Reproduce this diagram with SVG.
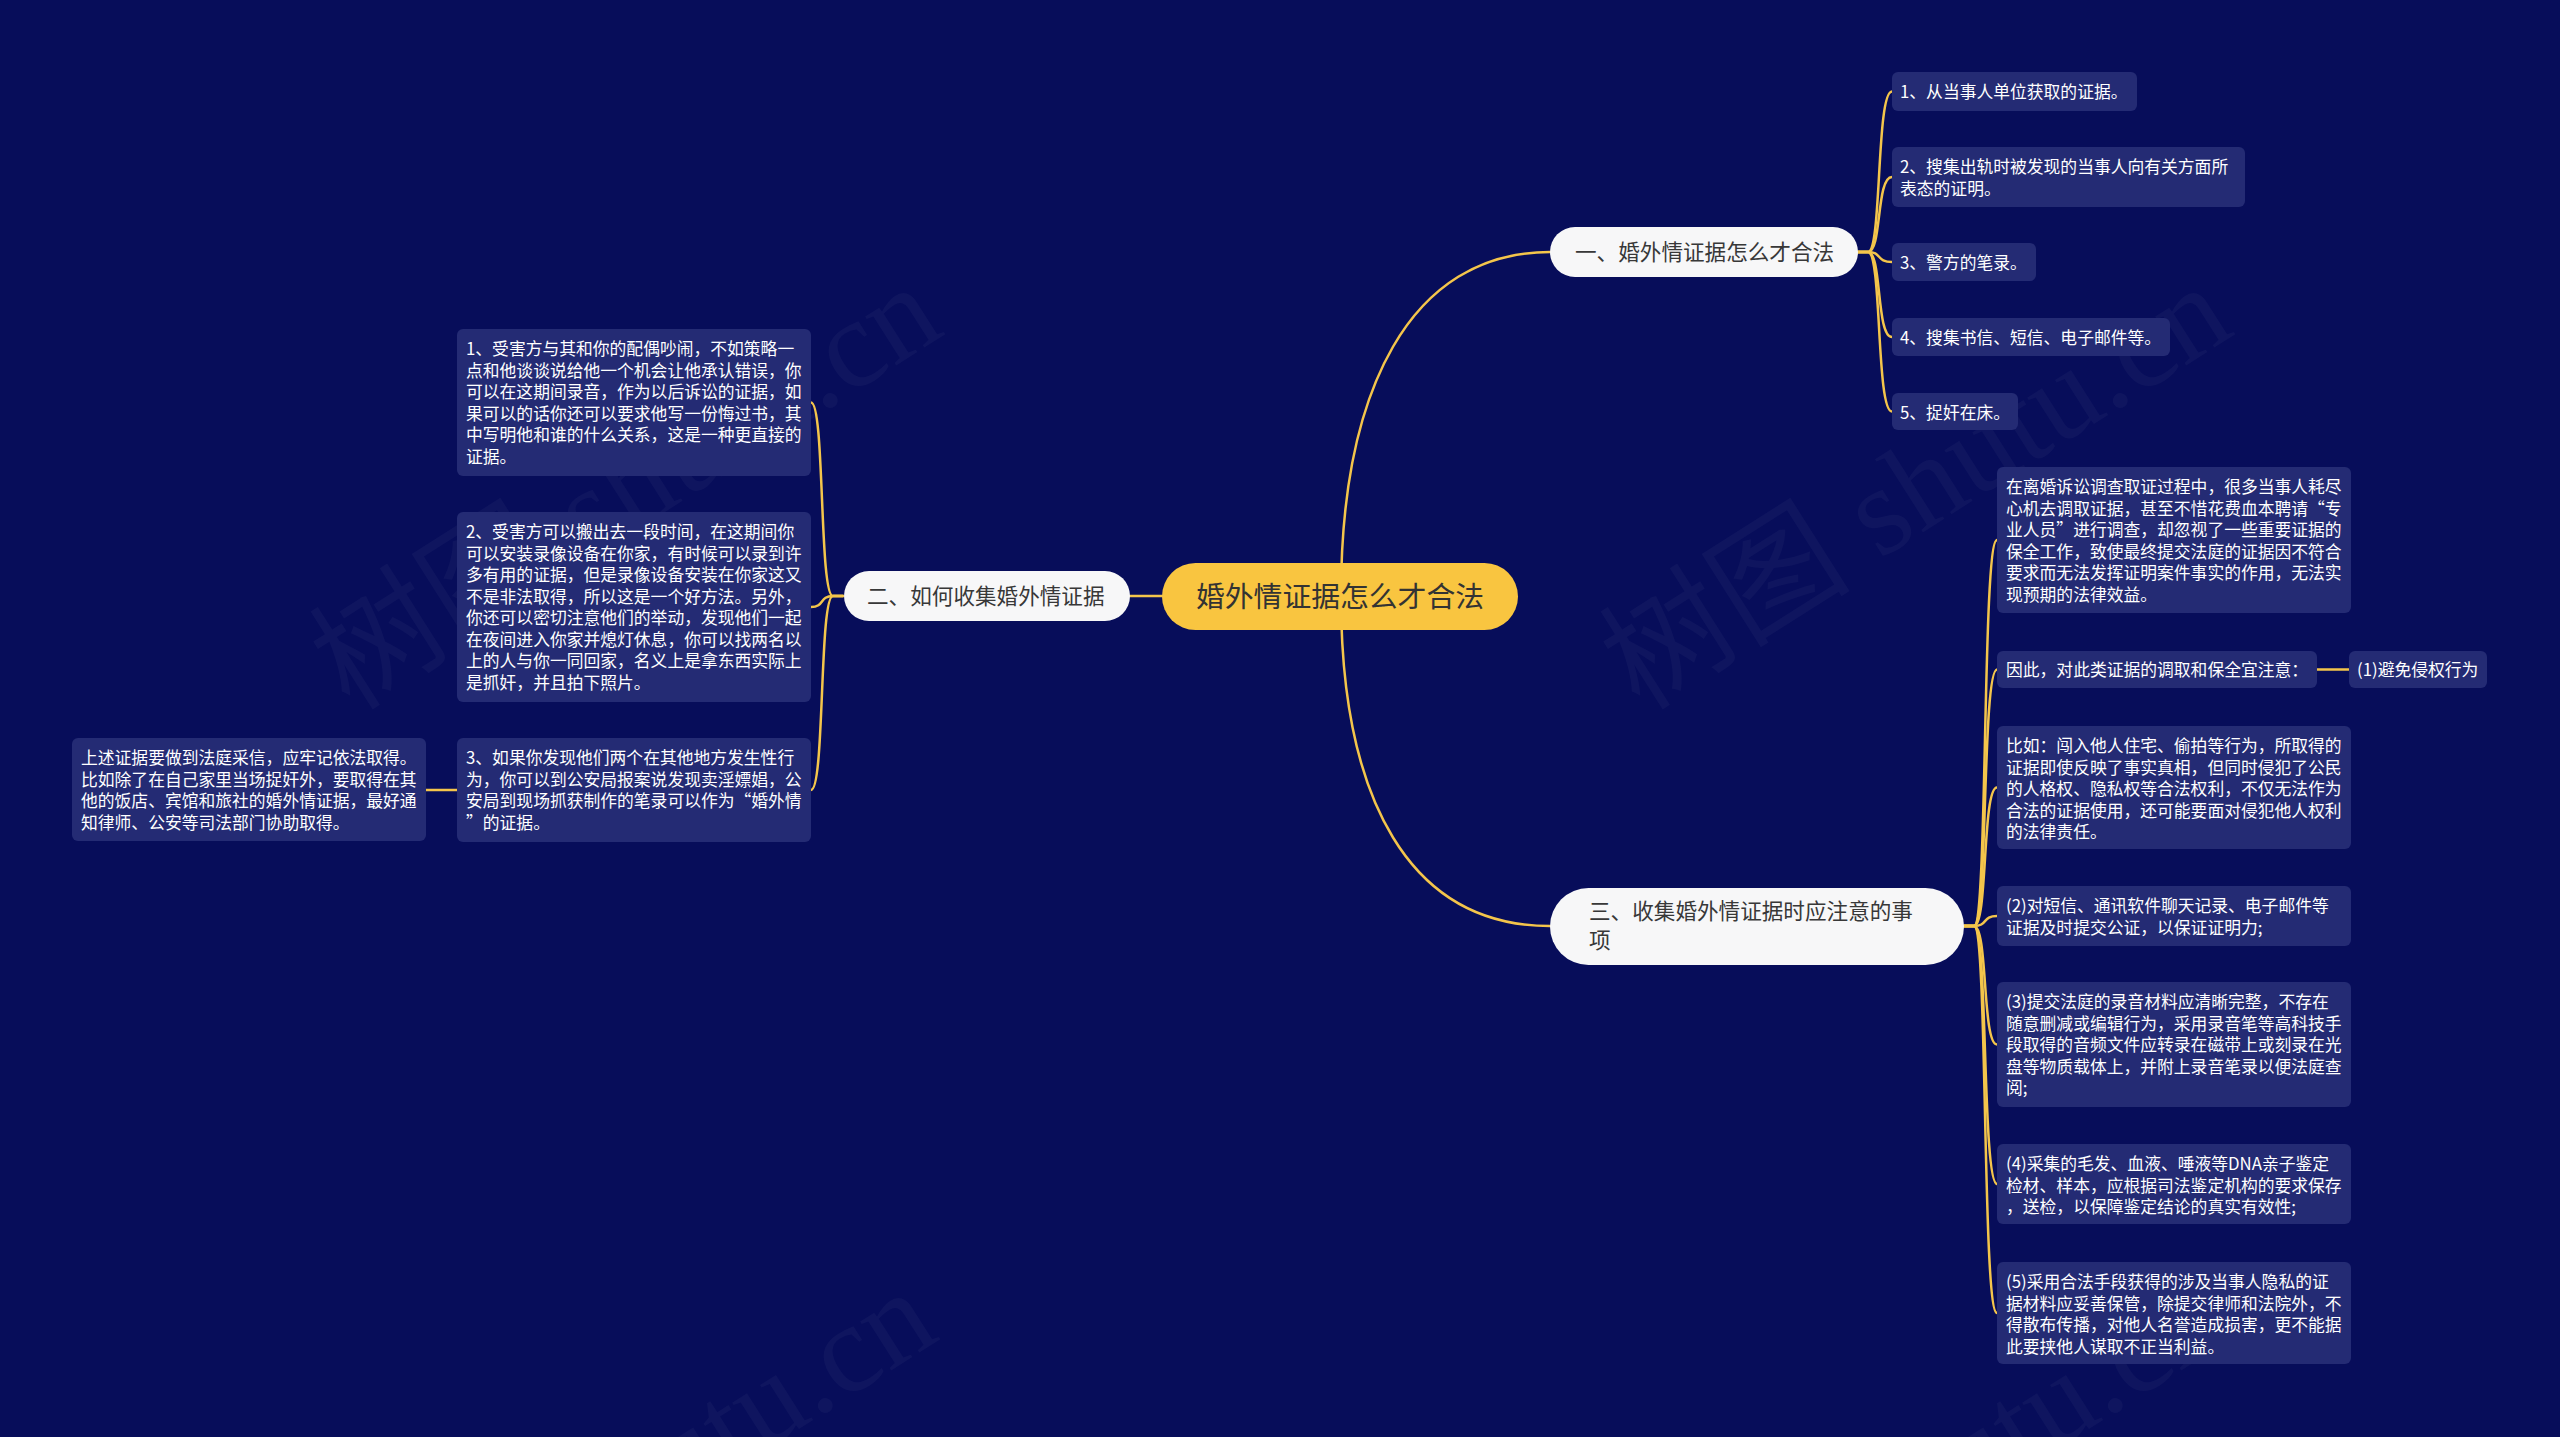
<svg xmlns="http://www.w3.org/2000/svg" width="2560" height="1437" viewBox="0 0 2560 1437">
<style>
.bg{fill:#070D5A}
.wm{font-family:"Liberation Serif","Noto Sans CJK SC",serif;font-size:126px;fill:#ffffff;fill-opacity:0.035}
.root rect{fill:#F9C540}
.root text{font-family:"Noto Sans CJK SC","Noto Sans",sans-serif;font-size:28.8px;fill:#333333}
.l1 rect{fill:#F7F7F8}
.l1 text{font-family:"Noto Sans CJK SC","Noto Sans",sans-serif;font-size:21.6px;fill:#383838}
.leaf rect{fill:#242B74}
.leaf text{font-family:"Noto Sans CJK SC","Noto Sans",sans-serif;font-size:16.8px;fill:#FFFFFF}
.conn path{fill:none;stroke:#F4C54B;stroke-width:2.5;stroke-linecap:round}
</style>
<rect class="bg" x="0" y="0" width="2560" height="1437"/>
<g id="watermarks">
<text class="wm" transform="translate(350 712) rotate(-32.4)">树图 shutu.cn</text>
<text class="wm" transform="translate(1640 712) rotate(-32.4)">树图 shutu.cn</text>
<text class="wm" transform="translate(345 1717) rotate(-32.4)">树图 shutu.cn</text>
<text class="wm" transform="translate(1635 1717) rotate(-32.4)">树图 shutu.cn</text>
</g>
<g id="connectors" class="conn">
<path d="M1341 596 C1341 390 1410 252 1550 252"/>
<path d="M1341 596 C1341 800 1410 926 1550 926"/>
<path d="M1162 596 L1130 596"/>
<path d="M1858 252 L1868 252 C1882 252 1876 91.5 1892 91.5"/>
<path d="M1858 252 L1868 252 C1882 252 1876 177 1892 177"/>
<path d="M1858 252 L1868 252 C1882 252 1876 262 1892 262"/>
<path d="M1858 252 L1868 252 C1882 252 1876 337 1892 337"/>
<path d="M1858 252 L1868 252 C1882 252 1876 411.5 1892 411.5"/>
<path d="M843 596 L833 596 C819 596 825 402.5 811 402.5"/>
<path d="M843 596 L833 596 C819 596 825 607 811 607"/>
<path d="M843 596 L833 596 C819 596 825 790 811 790"/>
<path d="M457 790 L426 790"/>
<path d="M1964 926 L1974 926 C1988 926 1982 540 1997 540"/>
<path d="M1964 926 L1974 926 C1988 926 1982 669.5 1997 669.5"/>
<path d="M1964 926 L1974 926 C1988 926 1982 787.5 1997 787.5"/>
<path d="M1964 926 L1974 926 C1988 926 1982 916 1997 916"/>
<path d="M1964 926 L1974 926 C1988 926 1982 1044.5 1997 1044.5"/>
<path d="M1964 926 L1974 926 C1988 926 1982 1184 1997 1184"/>
<path d="M1964 926 L1974 926 C1988 926 1982 1313 1997 1313"/>
<path d="M2317 669.5 L2349 669.5"/>
</g>
<g id="root" class="root">
<rect x="1162" y="563" width="356" height="67" rx="33.5"/>
<text x="1340" y="607" text-anchor="middle">婚外情证据怎么才合法</text>
</g>
<g id="n1" class="l1">
<rect x="1550" y="227" width="308" height="50" rx="25"/>
<text x="1575" y="260">一、婚外情证据怎么才合法</text>
</g>
<g id="n2" class="l1">
<rect x="844" y="571" width="286" height="50" rx="25"/>
<text x="867" y="604">二、如何收集婚外情证据</text>
</g>
<g id="n3" class="l1">
<rect x="1550" y="888" width="414" height="77" rx="38.5"/>
<text x="1589" y="919">三、收集婚外情证据时应注意的事</text>
<text x="1589" y="948">项</text>
</g>
<g id="n1c1" class="leaf">
<rect x="1892" y="72" width="245" height="39" rx="6"/>
<text x="1900" y="98">1、从当事人单位获取的证据。</text>
</g>
<g id="n1c2" class="leaf">
<rect x="1892" y="147" width="353" height="60" rx="6"/>
<text x="1900" y="173">2、搜集出轨时被发现的当事人向有关方面所</text>
<text x="1900" y="194.5">表态的证明。</text>
</g>
<g id="n1c3" class="leaf">
<rect x="1892" y="243" width="144" height="38" rx="6"/>
<text x="1900" y="269">3、警方的笔录。</text>
</g>
<g id="n1c4" class="leaf">
<rect x="1892" y="318" width="278" height="38" rx="6"/>
<text x="1900" y="344">4、搜集书信、短信、电子邮件等。</text>
</g>
<g id="n1c5" class="leaf">
<rect x="1892" y="393" width="126" height="37" rx="6"/>
<text x="1900" y="419">5、捉奸在床。</text>
</g>
<g id="n2c1" class="leaf">
<rect x="457" y="329" width="354" height="147" rx="6"/>
<text x="466" y="355">1、受害方与其和你的配偶吵闹，不如策略一</text>
<text x="466" y="376.5">点和他谈谈说给他一个机会让他承认错误，你</text>
<text x="466" y="398">可以在这期间录音，作为以后诉讼的证据，如</text>
<text x="466" y="419.5">果可以的话你还可以要求他写一份悔过书，其</text>
<text x="466" y="441">中写明他和谁的什么关系，这是一种更直接的</text>
<text x="466" y="462.5">证据。</text>
</g>
<g id="n2c2" class="leaf">
<rect x="457" y="512" width="354" height="190" rx="6"/>
<text x="466" y="538">2、受害方可以搬出去一段时间，在这期间你</text>
<text x="466" y="559.5">可以安装录像设备在你家，有时候可以录到许</text>
<text x="466" y="581">多有用的证据，但是录像设备安装在你家这又</text>
<text x="466" y="602.5">不是非法取得，所以这是一个好方法。另外，</text>
<text x="466" y="624">你还可以密切注意他们的举动，发现他们一起</text>
<text x="466" y="645.5">在夜间进入你家并熄灯休息，你可以找两名以</text>
<text x="466" y="667">上的人与你一同回家，名义上是拿东西实际上</text>
<text x="466" y="688.5">是抓奸，并且拍下照片。</text>
</g>
<g id="n2c3" class="leaf">
<rect x="457" y="738" width="354" height="104" rx="6"/>
<text x="466" y="764">3、如果你发现他们两个在其他地方发生性行</text>
<text x="466" y="785.5">为，你可以到公安局报案说发现卖淫嫖娼，公</text>
<text x="466" y="807">安局到现场抓获制作的笔录可以作为“婚外情</text>
<text x="466" y="828.5">”的证据。</text>
</g>
<g id="n2c3c1" class="leaf">
<rect x="72" y="738" width="354" height="103" rx="6"/>
<text x="81" y="764">上述证据要做到法庭采信，应牢记依法取得。</text>
<text x="81" y="785.5">比如除了在自己家里当场捉奸外，要取得在其</text>
<text x="81" y="807">他的饭店、宾馆和旅社的婚外情证据，最好通</text>
<text x="81" y="828.5">知律师、公安等司法部门协助取得。</text>
</g>
<g id="n3c1" class="leaf">
<rect x="1997" y="467" width="354" height="146" rx="6"/>
<text x="2006" y="493">在离婚诉讼调查取证过程中，很多当事人耗尽</text>
<text x="2006" y="514.5">心机去调取证据，甚至不惜花费血本聘请“专</text>
<text x="2006" y="536">业人员”进行调查，却忽视了一些重要证据的</text>
<text x="2006" y="557.5">保全工作，致使最终提交法庭的证据因不符合</text>
<text x="2006" y="579">要求而无法发挥证明案件事实的作用，无法实</text>
<text x="2006" y="600.5">现预期的法律效益。</text>
</g>
<g id="n3c2" class="leaf">
<rect x="1997" y="651" width="320" height="37" rx="6"/>
<text x="2006" y="676">因此，对此类证据的调取和保全宜注意：</text>
</g>
<g id="n3c2c1" class="leaf">
<rect x="2349" y="651" width="138" height="37" rx="6"/>
<text x="2357" y="676">(1)避免侵权行为</text>
</g>
<g id="n3c3" class="leaf">
<rect x="1997" y="726" width="354" height="123" rx="6"/>
<text x="2006" y="752">比如：闯入他人住宅、偷拍等行为，所取得的</text>
<text x="2006" y="773.5">证据即使反映了事实真相，但同时侵犯了公民</text>
<text x="2006" y="795">的人格权、隐私权等合法权利，不仅无法作为</text>
<text x="2006" y="816.5">合法的证据使用，还可能要面对侵犯他人权利</text>
<text x="2006" y="838">的法律责任。</text>
</g>
<g id="n3c4" class="leaf">
<rect x="1997" y="886" width="354" height="60" rx="6"/>
<text x="2006" y="912">(2)对短信、通讯软件聊天记录、电子邮件等</text>
<text x="2006" y="933.5">证据及时提交公证，以保证证明力;</text>
</g>
<g id="n3c5" class="leaf">
<rect x="1997" y="982" width="354" height="125" rx="6"/>
<text x="2006" y="1008">(3)提交法庭的录音材料应清晰完整，不存在</text>
<text x="2006" y="1029.5">随意删减或编辑行为，采用录音笔等高科技手</text>
<text x="2006" y="1051">段取得的音频文件应转录在磁带上或刻录在光</text>
<text x="2006" y="1072.5">盘等物质载体上，并附上录音笔录以便法庭查</text>
<text x="2006" y="1094">阅;</text>
</g>
<g id="n3c6" class="leaf">
<rect x="1997" y="1144" width="354" height="80" rx="6"/>
<text x="2006" y="1170">(4)采集的毛发、血液、唾液等DNA亲子鉴定</text>
<text x="2006" y="1191.5">检材、样本，应根据司法鉴定机构的要求保存</text>
<text x="2006" y="1213">，送检，以保障鉴定结论的真实有效性;</text>
</g>
<g id="n3c7" class="leaf">
<rect x="1997" y="1262" width="354" height="102" rx="6"/>
<text x="2006" y="1288">(5)采用合法手段获得的涉及当事人隐私的证</text>
<text x="2006" y="1309.5">据材料应妥善保管，除提交律师和法院外，不</text>
<text x="2006" y="1331">得散布传播，对他人名誉造成损害，更不能据</text>
<text x="2006" y="1352.5">此要挟他人谋取不正当利益。</text>
</g>
</svg>
